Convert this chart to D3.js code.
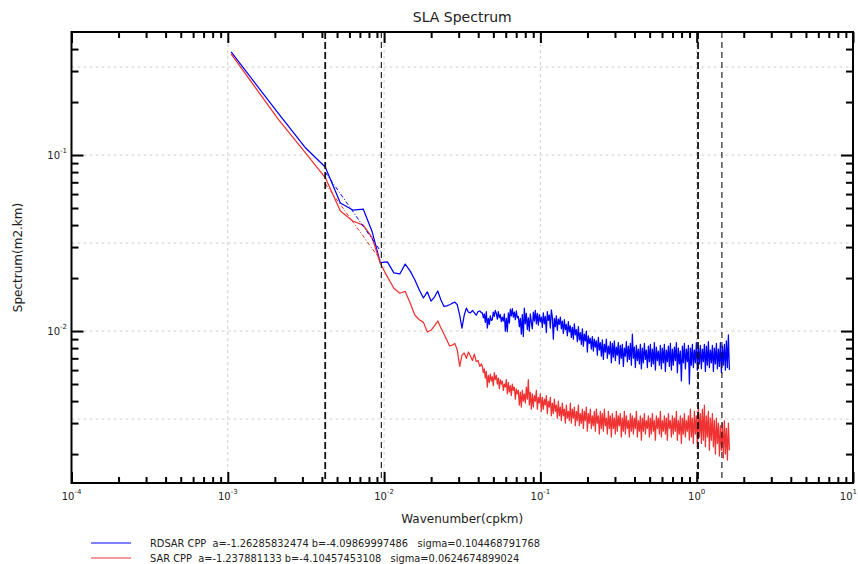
<!DOCTYPE html>
<html>
<head>
<meta charset="utf-8">
<script src="https://cdn.jsdelivr.net/npm/d3@7"></script>
<style>
body { margin: 0; background: #fff; }
text { font-family: "DejaVu Sans", sans-serif; fill: #222; }
</style>
</head>
<body>
<div id="chart"></div>
<script>
// first 40 spectral bins (cpkm) and their spectrum values (m2.km)
const kLow = [0.00105, 0.0021, 0.00315, 0.0042, 0.00525, 0.0063, 0.00735, 0.0084, 0.00945, 0.0105,
    0.01155, 0.0126, 0.01365, 0.0147, 0.01575, 0.0168, 0.01785, 0.0189, 0.01995, 0.021,
    0.02205, 0.0231, 0.02415, 0.0252, 0.02625, 0.0273, 0.02835, 0.0294, 0.03045, 0.0315,
    0.03255, 0.0336, 0.03465, 0.0357, 0.03675, 0.0378, 0.03885, 0.0399, 0.04095, 0.042];
const rdsarLow = [0.385, 0.173, 0.1096, 0.0855, 0.0534, 0.0487, 0.0493, 0.0365, 0.0245, 0.0247,
    0.0214, 0.0211, 0.0240, 0.0219, 0.0195, 0.0171, 0.0154, 0.0167, 0.0148, 0.0156,
    0.0169, 0.0150, 0.0138, 0.0139, 0.0141, 0.0144, 0.0146, 0.0141, 0.0123, 0.0104,
    0.0123, 0.0135, 0.0128, 0.0127, 0.0131, 0.0127, 0.0123, 0.0129, 0.0130, 0.0127];
const sarLow = [0.375, 0.160, 0.1026, 0.0745, 0.0481, 0.0422, 0.0400, 0.0338, 0.0243, 0.0203,
    0.0175, 0.0164, 0.0168, 0.0144, 0.0123, 0.0116, 0.0112, 0.00987, 0.0101, 0.0107,
    0.0114, 0.0104, 0.00962, 0.00889, 0.00822, 0.00832, 0.0085, 0.0078, 0.0063, 0.0073,
    0.0075, 0.0070, 0.0076, 0.0072, 0.0068, 0.0074, 0.0067, 0.0068, 0.0063, 0.0065];

// noisy part, sampled on a log grid starting at 0.0425 cpkm, values in 1e-3 m2.km
const noiseK0 = 0.0425;
const noiseStep = 0.0064; // decades between samples
const rdsarNoise = [
    12.7, 11.9, 12.5, 11.2, 12.9, 10.4, 11.8, 10.9, 12.2, 11.5,
    11.6, 12.8, 12.1, 13.1, 12.6, 11.7, 12.9, 11.9, 12.4, 11.3,
    12.0, 11.4, 12.5, 10.0, 11.8, 9.9, 12.7, 11.1, 13.3, 12.2,
    13.4, 12.0, 12.8, 11.6, 13.0, 11.9, 12.1, 10.6, 11.8, 9.6,
    12.4, 9.3, 13.5, 11.0, 12.6, 10.2, 11.9, 10.0, 12.5, 11.2,
    10.3, 12.8, 11.4, 13.1, 11.0, 12.6, 10.8, 12.4, 11.3, 12.0,
    10.5, 12.7, 11.0, 12.1, 9.8, 12.9, 11.5, 12.3, 10.4, 13.2,
    12.0, 9.0, 11.8, 10.6, 12.2, 10.1, 11.7, 10.9, 12.0, 10.3,
    11.4, 9.7, 11.6, 10.2, 10.9, 9.4, 11.3, 9.9, 10.7, 9.2,
    10.5, 9.0, 11.0, 9.5, 10.2, 8.7, 10.6, 8.9, 9.8, 8.4,
    10.3, 8.2, 9.6, 8.8, 10.0, 7.6, 9.4, 8.5, 9.1, 7.9,
    9.3, 7.7, 9.0, 8.1, 8.8, 7.3, 9.2, 7.8, 8.6, 7.2,
    8.9, 6.9, 8.4, 7.6, 9.0, 7.0, 8.2, 7.4, 8.7, 6.6,
    8.5, 7.1, 8.8, 6.8, 8.1, 7.3, 8.6, 6.5, 8.3, 7.0,
    8.4, 6.3, 8.0, 7.2, 8.7, 6.7, 8.2, 6.9, 8.5, 6.4,
    9.6, 7.0, 8.1, 6.2, 8.3, 6.8, 7.9, 6.5, 8.4, 6.1,
    8.0, 6.6, 8.5, 6.9, 7.8, 6.2, 8.2, 6.7, 8.4, 6.3,
    7.9, 6.5, 8.6, 6.0, 8.1, 6.8, 7.7, 6.4, 8.3, 6.1,
    8.0, 6.6, 8.4, 5.9, 7.8, 6.7, 8.2, 6.3, 8.5, 6.0,
    7.9, 6.4, 8.1, 6.8, 8.6, 5.8, 8.0, 6.5, 7.7, 5.2,
    8.2, 6.6, 8.5, 6.1, 7.9, 6.7, 8.3, 5.0, 8.0, 6.4,
    8.4, 6.2, 7.8, 6.6, 8.6, 6.0, 8.1, 6.5, 8.3, 6.1,
    7.9, 6.7, 8.4, 5.9, 8.2, 6.4, 8.7, 6.2, 7.8, 6.6,
    8.3, 5.9, 8.0, 6.5, 8.5, 6.1, 7.9, 6.3, 8.6, 5.8,
    8.2, 6.4, 8.4, 6.0, 8.8, 6.2, 9.5, 6.0];
const sarNoise = [
    6.3, 5.8, 6.1, 5.4, 5.9, 4.8, 5.6, 5.1, 5.7, 5.2,
    5.5, 4.9, 5.8, 5.3, 5.6, 5.0, 5.4, 4.7, 5.3, 5.0,
    5.2, 4.6, 5.0, 4.8, 5.3, 4.4, 5.1, 4.5, 4.9, 4.3,
    5.0, 4.6, 4.8, 4.1, 4.7, 4.4, 4.6, 3.8, 4.5, 3.7,
    4.6, 4.0, 4.4, 3.9, 4.8, 4.1, 5.3, 3.8, 4.5, 3.6,
    4.4, 3.7, 4.3, 4.0, 4.6, 3.6, 4.2, 3.9, 4.4, 3.5,
    4.2, 3.6, 4.1, 3.8, 4.3, 3.4, 4.0, 3.7, 4.2, 3.3,
    3.9, 3.4, 4.1, 3.5, 3.8, 3.2, 4.0, 3.3, 3.7, 3.1,
    3.9, 3.3, 3.6, 3.0, 3.8, 3.2, 3.5, 3.1, 3.9, 3.0,
    3.6, 3.2, 3.7, 2.9, 3.5, 3.1, 3.8, 2.9, 3.4, 3.0,
    3.6, 2.8, 3.5, 3.1, 3.7, 2.7, 3.4, 3.0, 3.6, 2.8,
    3.3, 2.9, 3.5, 2.7, 3.6, 3.0, 3.3, 2.6, 3.5, 2.8,
    3.4, 2.7, 3.6, 2.9, 3.2, 2.6, 3.5, 2.8, 3.3, 2.5,
    3.4, 2.8, 3.2, 2.6, 3.5, 2.7, 3.3, 2.9, 3.4, 2.5,
    3.2, 2.7, 3.5, 2.6, 3.3, 2.8, 3.1, 2.5, 3.4, 2.7,
    3.3, 2.6, 3.2, 2.8, 3.5, 2.5, 3.1, 2.7, 3.3, 2.4,
    3.2, 2.7, 3.4, 2.6, 3.1, 2.8, 3.3, 2.5, 3.2, 2.6,
    3.4, 2.7, 3.1, 2.4, 3.3, 2.8, 3.2, 2.6, 3.5, 2.5,
    3.1, 2.7, 3.3, 2.6, 3.2, 2.4, 3.4, 2.8, 3.1, 2.5,
    3.3, 2.6, 3.2, 2.7, 3.5, 2.4, 3.1, 2.6, 3.3, 2.3,
    3.2, 2.6, 3.4, 2.5, 3.1, 2.7, 3.3, 2.4, 3.6, 2.5,
    3.2, 2.3, 3.5, 2.6, 3.3, 2.2, 3.7, 2.5, 3.4, 2.3,
    3.6, 2.4, 3.8, 2.2, 3.3, 2.5, 3.5, 2.1, 3.2, 2.4,
    3.4, 2.2, 3.1, 2.0, 3.2, 2.3, 3.0, 1.95, 2.9, 2.1,
    3.0, 1.9, 3.1, 2.0, 2.8, 1.85, 3.0, 2.1];

// fitted slopes between the two first markers
const fitK = [0.0042, 0.0096];
const rdsarFit = [0.0800, 0.0281];
const sarFit = [0.0688, 0.0249];

// vertical markers (cpkm)
const markerK = [0.0042, 0.0096, 1.02, 1.45];

const legendLabels = [
    "RDSAR CPP  a=-1.26285832474 b=-4.09869997486   sigma=0.104468791768",
    "SAR CPP  a=-1.237881133 b=-4.10457453108   sigma=0.0624674899024"];
const colors = ["#0000ff", "#f03232"];

const width = 858;
const height = 564;
const plot = { left: 71.5, right: 853, top: 32, bottom: 483 };

const svg = d3.select("#chart").append("svg")
    .attr("width", width)
    .attr("height", height);

const x = d3.scaleLog().domain([1e-4, 10]).range([plot.left, plot.right]);
const y = d3.scaleLog().domain([0.00137, 0.5]).range([plot.bottom, plot.top]);

svg.append("clipPath").attr("id", "clip")
    .append("rect")
    .attr("x", plot.left).attr("y", plot.top)
    .attr("width", plot.right - plot.left).attr("height", plot.bottom - plot.top);

// grid
const gridY = [0.3162, 0.1, 0.03162, 0.01, 0.003162];
const gridX = [1e-3, 1e-2, 1e-1, 1];
svg.append("g").selectAll("line").data(gridY).enter().append("line")
    .attr("x1", plot.left).attr("x2", plot.right)
    .attr("y1", d => y(d)).attr("y2", d => y(d))
    .attr("stroke", "#cfcfcf").attr("stroke-dasharray", "3,3");
svg.append("g").selectAll("line").data(gridX).enter().append("line")
    .attr("y1", plot.top).attr("y2", plot.bottom)
    .attr("x1", d => x(d)).attr("x2", d => x(d))
    .attr("stroke", "#cfcfcf").attr("stroke-dasharray", "3,3");

// series
function series(low, noise) {
    const pts = kLow.map((k, i) => [k, low[i]]);
    noise.forEach((v, j) => pts.push([noiseK0 * Math.pow(10, j * noiseStep), v * 1e-3]));
    return pts;
}
const line = d3.line().x(d => x(d[0])).y(d => y(d[1]));
const lines = svg.append("g").attr("clip-path", "url(#clip)");
[series(rdsarLow, rdsarNoise), series(sarLow, sarNoise)].forEach((pts, i) => {
    lines.append("path")
        .datum(pts)
        .attr("fill", "none")
        .attr("stroke", colors[i])
        .attr("stroke-width", 1.25)
        .attr("stroke-linejoin", "round")
        .attr("d", line);
});
[rdsarFit, sarFit].forEach((vals, i) => {
    lines.append("path")
        .datum(fitK.map((k, j) => [k, vals[j]]))
        .attr("fill", "none")
        .attr("stroke", colors[i])
        .attr("stroke-width", 1)
        .attr("stroke-dasharray", "4,2,1,2")
        .attr("d", line);
});

// markers
svg.append("g").selectAll("line").data(markerK).enter().append("line")
    .attr("x1", d => x(d)).attr("x2", d => x(d))
    .attr("y1", plot.top).attr("y2", plot.bottom)
    .attr("stroke", "#111")
    .attr("stroke-width", (d, i) => i % 2 === 0 ? 1.8 : 1.1)
    .attr("stroke-dasharray", (d, i) => i % 2 === 0 ? "7,3" : "6,4");

// ticks on all four sides
const xMajor = [1e-4, 1e-3, 1e-2, 1e-1, 1, 10];
const xMinor = [];
xMajor.slice(0, -1).forEach(d => { for (let m = 2; m < 10; m++) xMinor.push(d * m); });
const yMajor = [0.01, 0.1];
const yMinor = [];
[1e-3, 1e-2, 1e-1].forEach(d => { for (let m = 2; m < 10; m++) if (d * m < 0.5) yMinor.push(d * m); });

function ticks(axis, vals, size, t) {
    svg.append("g")
        .attr("transform", t)
        .call(axis.tickValues(vals).tickSize(size).tickFormat(""))
        .call(g => g.select(".domain").remove())
        .call(g => g.selectAll("line").attr("stroke", "#000").attr("stroke-width", 2));
}
ticks(d3.axisBottom(x), xMajor, -11, `translate(0,${plot.bottom})`);
ticks(d3.axisBottom(x), xMinor, -6, `translate(0,${plot.bottom})`);
ticks(d3.axisTop(x), xMajor, -11, `translate(0,${plot.top})`);
ticks(d3.axisTop(x), xMinor, -6, `translate(0,${plot.top})`);
ticks(d3.axisLeft(y), yMajor, -12, `translate(${plot.left},0)`);
ticks(d3.axisLeft(y), yMinor, -7, `translate(${plot.left},0)`);
ticks(d3.axisRight(y), yMajor, -12, `translate(${plot.right},0)`);
ticks(d3.axisRight(y), yMinor, -7, `translate(${plot.right},0)`);

svg.append("rect")
    .attr("x", plot.left).attr("y", plot.top)
    .attr("width", plot.right - plot.left).attr("height", plot.bottom - plot.top)
    .attr("fill", "none").attr("stroke", "#000").attr("stroke-width", 2);

// tick labels
xMajor.forEach((v, i) => {
    const last = i === xMajor.length - 1;
    const t = svg.append("text")
        .attr("x", last ? width - 1 : x(v)).attr("y", 500)
        .attr("text-anchor", last ? "end" : "middle")
        .style("font-size", "10px");
    t.append("tspan").text("10");
    t.append("tspan").attr("dy", -6).style("font-size", "7px").text(Math.round(Math.log10(v)));
});
yMajor.forEach(v => {
    const t = svg.append("text")
        .attr("x", 67).attr("y", y(v) + 4)
        .attr("text-anchor", "end")
        .style("font-size", "10px");
    t.append("tspan").text("10");
    t.append("tspan").attr("dy", -6).style("font-size", "7px").text(Math.round(Math.log10(v)));
});

// titles
svg.append("text")
    .attr("x", (plot.left + plot.right) / 2).attr("y", 22)
    .attr("text-anchor", "middle")
    .style("font-size", "14px")
    .text("SLA Spectrum");
svg.append("text")
    .attr("x", (plot.left + plot.right) / 2).attr("y", 523)
    .attr("text-anchor", "middle")
    .style("font-size", "12px")
    .text("Wavenumber(cpkm)");
svg.append("text")
    .attr("transform", `translate(22,${(plot.top + plot.bottom) / 2}) rotate(-90)`)
    .attr("text-anchor", "middle")
    .style("font-size", "12px")
    .text("Spectrum(m2.km)");

// legend
legendLabels.forEach((label, i) => {
    const ly = 543 + i * 15;
    svg.append("line")
        .attr("x1", 91).attr("x2", 131)
        .attr("y1", ly).attr("y2", ly)
        .attr("stroke", colors[i]);
    svg.append("text")
        .attr("x", 150).attr("y", ly + 4)
        .style("font-size", "9.85px")
        .style("white-space", "pre")
        .text(label);
});
</script>
</body>
</html>
